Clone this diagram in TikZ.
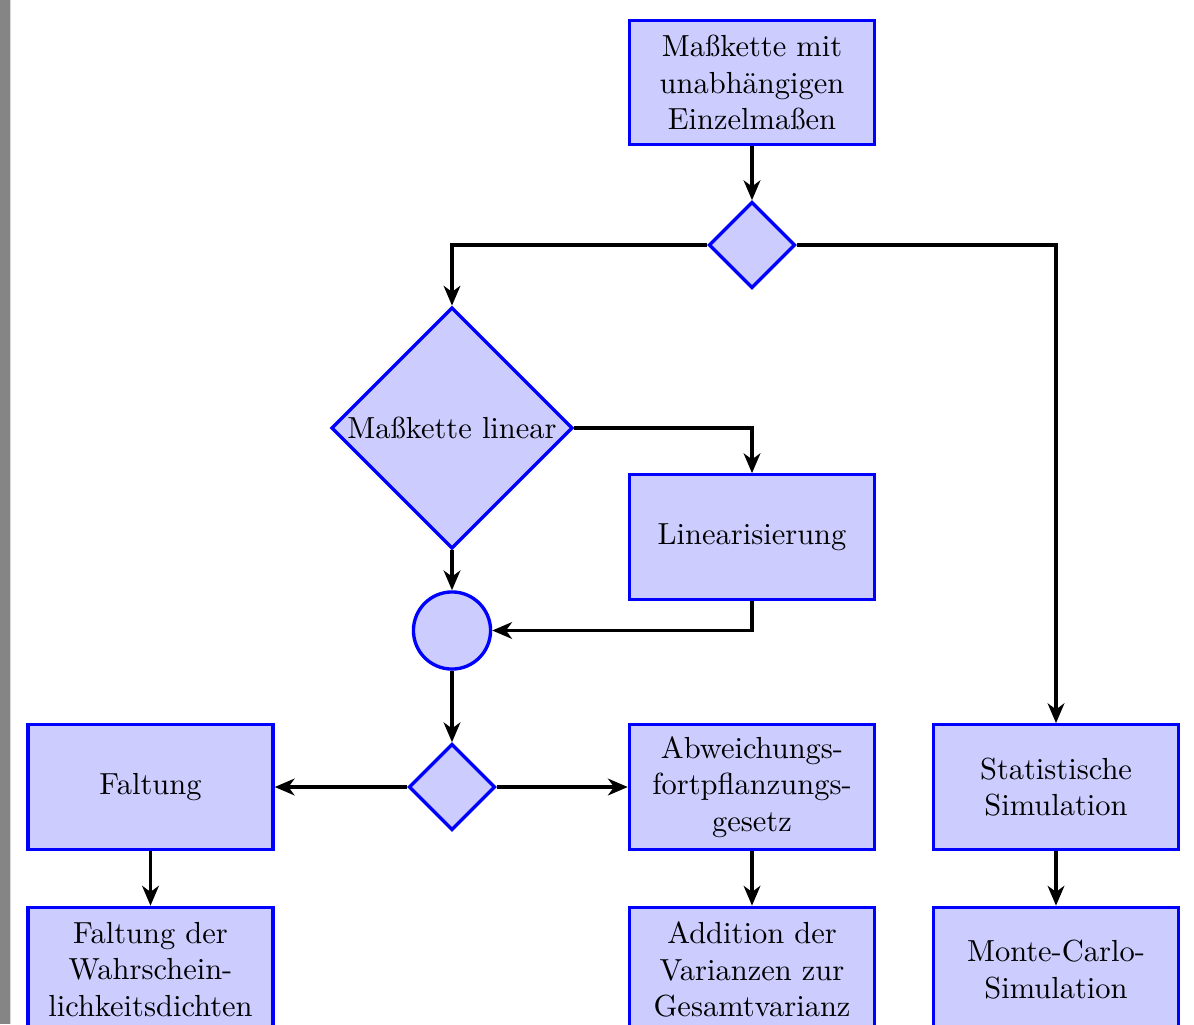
\documentclass[tikz,border=0pt]{standalone}
\usetikzlibrary{shapes.geometric,arrows.meta}
\begin{document}
\begin{tikzpicture}[x=0.328pt,y=-0.328pt,
  boxnode/.style={draw=blue,fill=blue!20,line width=1.1pt,rectangle,align=center,
    minimum width=80.4pt,minimum height=40.8pt,inner sep=1pt},
  decnode/.style={draw=blue,fill=blue!20,line width=1.1pt,diamond,aspect=1,inner sep=0pt},
  joinnode/.style={draw=blue,fill=blue!20,line width=1.1pt,circle,minimum size=25.3pt,inner sep=0pt},
  arr/.style={line width=1pt,-{Stealth[length=6.5pt,width=5.5pt,inset=2pt]}}]
\useasboundingbox (0,0) rectangle (1194,1024);
\fill[fill={rgb,255:red,133;green,133;blue,133}] (0,0) rectangle (9.5,1024);
\fill[fill={rgb,255:red,215;green,215;blue,215}] (9.5,0) rectangle (10.5,1024);
\node[boxnode] (top) at (752,82.5) {Maßkette mit\\unabhängigen\\Einzelmaßen};
\node[decnode,minimum size=28.3pt] (d1) at (752,245) {};
\node[decnode,minimum size=79.2pt] (big) at (452,428) {Maßkette linear};
\node[boxnode] (lin) at (752,537) {Linearisierung};
\node[joinnode] (circ) at (452,630.5) {};
\node[decnode,minimum size=28.3pt] (d2) at (452,787) {};
\node[boxnode] (falt) at (150.5,787) {Faltung};
\node[boxnode] (abw) at (752,787) {Abweichungs-\\fortpflanzungs-\\gesetz};
\node[boxnode] (stat) at (1056,787) {Statistische\\Simulation};
\node[boxnode] (faltd) at (150.5,969.5) {Faltung der\\Wahrschein-\\lichkeitsdichten};
\node[boxnode] (add) at (752,969.5) {Addition der\\Varianzen zur\\Gesamtvarianz};
\node[boxnode] (mc) at (1056,969.5) {Monte-Carlo-\\Simulation};
\draw[arr] (top) -- (d1);
\draw[arr] (d1.west) -| (big.north);
\draw[arr] (d1.east) -| (stat.north);
\draw[arr] (big.east) -| (lin.north);
\draw[arr] (big) -- (circ);
\draw[arr] (lin.south) |- (circ.east);
\draw[arr] (circ) -- (d2);
\draw[arr] (d2) -- (falt);
\draw[arr] (d2) -- (abw);
\draw[arr] (falt) -- (faltd);
\draw[arr] (abw) -- (add);
\draw[arr] (stat) -- (mc);
\end{tikzpicture}
\end{document}
